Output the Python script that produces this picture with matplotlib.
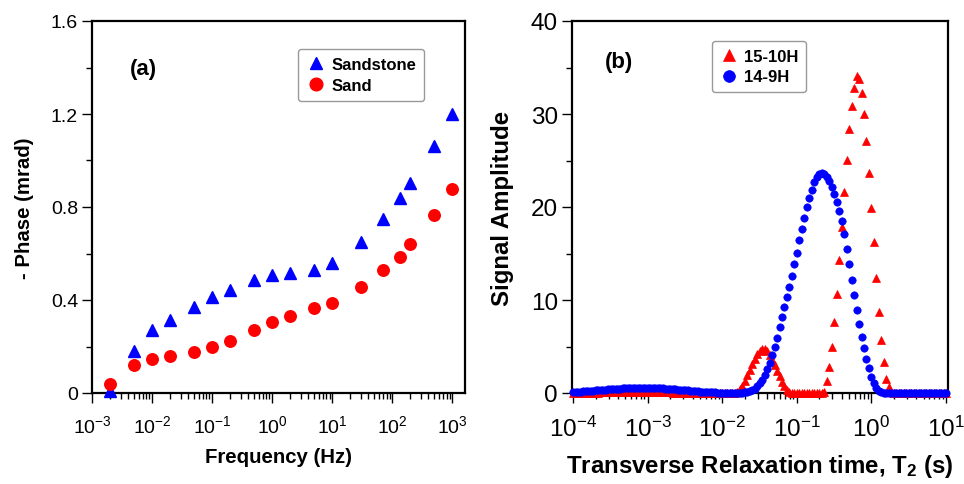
import numpy as np
import matplotlib
matplotlib.use("Agg")
import matplotlib.pyplot as plt
from matplotlib.ticker import LogLocator, MultipleLocator, NullFormatter

plt.rcParams['font.family'] = ['Liberation Sans', 'DejaVu Sans']
plt.rcParams['mathtext.fontset'] = 'custom'
plt.rcParams['mathtext.rm'] = 'Liberation Sans'
plt.rcParams['mathtext.it'] = 'Liberation Sans:italic'
plt.rcParams['mathtext.bf'] = 'Liberation Sans:bold'

# ---- panel (a): phase spectra ----
freq = [0.002, 0.005, 0.01, 0.02, 0.05, 0.1, 0.2, 0.5, 1, 2, 5, 10,
        30, 70, 135, 200, 500, 1000]
phase_sandstone = [0.01, 0.182, 0.273, 0.313, 0.368, 0.415, 0.445, 0.485, 0.507,
                   0.515, 0.53, 0.557, 0.649, 0.749, 0.838, 0.903, 1.064, 1.202]
phase_sand = [0.04, 0.119, 0.146, 0.158, 0.177, 0.198, 0.225, 0.27, 0.304,
              0.333, 0.366, 0.389, 0.455, 0.528, 0.586, 0.642, 0.765, 0.876]

# ---- panel (b): NMR T2 distributions, 30 bins per decade from 1e-4 to 10 s ----
t2 = np.logspace(-4, 1, 151)
amp_15_10h = [
    0.02, 0.02, 0.03, 0.03, 0.03, 0.04, 0.04, 0.04, 0.05, 0.05,
    0.05, 0.06, 0.06, 0.06, 0.07, 0.07, 0.07, 0.07, 0.08, 0.08,
    0.08, 0.08, 0.08, 0.08, 0.08, 0.08, 0.08, 0.08, 0.08, 0.08,
    0.08, 0.08, 0.08, 0.07, 0.07, 0.07, 0.07, 0.06, 0.06, 0.06,
    0.05, 0.05, 0.05, 0.04, 0.04, 0.04, 0.03, 0.03, 0.03, 0.02,
    0.02, 0.02, 0.02, 0.01, 0.01, 0.01, 0.01, 0.01, 0.0, 0.0,
    0.0, 0.0, 0.0, 0.0, 0.0, 0.05, 0.15, 0.40, 0.80, 1.30,
    1.90, 2.50, 3.10, 3.65, 4.15, 4.50, 4.70, 4.70, 4.50, 4.10,
    3.60, 3.00, 2.40, 1.80, 1.20, 0.70, 0.35, 0.15, 0.05, 0.0,
    0.0, 0.0, 0.0, 0.0, 0.0, 0.0, 0.0, 0.0, 0.0, 0.0,
    0.0, 0.10, 1.3, 2.8, 4.9, 7.6, 10.6, 14.3, 17.8, 21.6,
    25.1, 28.4, 30.9, 32.8, 34.1, 33.8, 32.3, 30.0, 27.1, 23.7,
    19.9, 16.2, 12.4, 8.7, 5.7, 3.3, 1.5, 0.6, 0.15, 0.0,
    0.0, 0.0, 0.0, 0.0, 0.0, 0.0, 0.0, 0.0, 0.0, 0.0,
    0.0, 0.0, 0.0, 0.0, 0.0, 0.0, 0.0, 0.0, 0.0, 0.0,
    0.0,
]
amp_14_9h = [
    0.10, 0.11, 0.13, 0.15, 0.17, 0.19, 0.21, 0.23, 0.26, 0.28,
    0.30, 0.32, 0.34, 0.36, 0.38, 0.40, 0.42, 0.44, 0.46, 0.48,
    0.50, 0.51, 0.52, 0.53, 0.54, 0.55, 0.56, 0.56, 0.57, 0.57,
    0.57, 0.56, 0.56, 0.55, 0.54, 0.52, 0.50, 0.48, 0.46, 0.44,
    0.42, 0.40, 0.37, 0.35, 0.32, 0.30, 0.27, 0.25, 0.22, 0.20,
    0.18, 0.16, 0.14, 0.12, 0.10, 0.08, 0.07, 0.06, 0.05, 0.04,
    0.03, 0.03, 0.02, 0.02, 0.02, 0.02, 0.03, 0.03, 0.04, 0.06,
    0.10, 0.18, 0.30, 0.48, 0.75, 1.05, 1.45, 1.95, 2.55, 3.25,
    4.05, 4.95, 5.95, 7.05, 8.15, 9.25, 10.35, 11.45, 12.60, 13.85,
    15.10, 16.40, 17.65, 18.85, 19.95, 20.95, 21.85, 22.65, 23.25, 23.60,
    23.70, 23.55, 23.20, 22.75, 22.10, 21.35, 20.55, 19.60, 18.45, 17.05,
    15.50, 13.85, 12.20, 10.55, 8.95, 7.45, 6.05, 4.80, 3.65, 2.65,
    1.75, 1.05, 0.55, 0.25, 0.10, 0.04, 0.0, 0.0, 0.0, 0.0,
    0.0, 0.0, 0.0, 0.0, 0.0, 0.0, 0.0, 0.0, 0.0, 0.0,
    0.0, 0.0, 0.0, 0.0, 0.0, 0.0, 0.0, 0.0, 0.0, 0.0,
    0.0,
]

fig = plt.figure(figsize=(9.64, 4.85), dpi=100)
ax1 = fig.add_axes([92 / 964, 91 / 485, 373 / 964, 372 / 485])
ax2 = fig.add_axes([572 / 964, 91 / 485, 376 / 964, 372 / 485])

bold12 = {'weight': 'bold', 'size': 12}

# panel (a)
ax1.plot(freq, phase_sandstone, '^', color='blue', ms=8, mec='blue',
         label='Sandstone', clip_on=False, zorder=3)
ax1.plot(freq, phase_sand, 'o', color='red', ms=8.3, mec='red',
         label='Sand', clip_on=False, zorder=3)
ax1.set_xscale('log')
ax1.set_xlim(1e-3, 10 ** 3.21)
ax1.set_ylim(0, 1.6)
ax1.set_yticks([0, 0.4, 0.8, 1.2, 1.6])
ax1.set_yticklabels(['0', '0.4', '0.8', '1.2', '1.6'])
ax1.yaxis.set_minor_locator(MultipleLocator(0.2))
ax1.set_xlabel('Frequency (Hz)', fontsize=14.7, fontweight='bold', va='center')
ax1.xaxis.set_label_coords(0.5, -0.172)
ax1.set_ylabel('- Phase (mrad)', fontsize=14.7, fontweight='bold', va='center')
ax1.yaxis.set_label_coords(-0.18, 0.5)
ax1.text(0.137, 0.871, '(a)', transform=ax1.transAxes, fontsize=16,
         fontweight='bold', ha='center', va='center')
ax1.legend(loc='upper left', bbox_to_anchor=(0.552, 0.925), prop=bold12,
           frameon=True, fancybox=True, edgecolor='0.6', framealpha=1,
           handletextpad=0.3, handlelength=1.2, borderpad=0.5,
           labelspacing=0.35, borderaxespad=0, markerscale=1.1)

# panel (b)
ax2.plot(t2, amp_15_10h, '^', color='red', ms=5.8, mec='red', mew=0.5,
         label='15-10H', clip_on=False, zorder=3)
ax2.plot(t2, amp_14_9h, 'o', color='blue', ms=5.3, mec='blue', mew=0.5,
         label='14-9H', clip_on=False, zorder=3)
ax2.set_xscale('log')
ax2.set_xlim(10 ** -4.017, 10 ** 1.027)
ax2.set_ylim(0, 40)
ax2.yaxis.set_major_locator(MultipleLocator(10))
ax2.yaxis.set_minor_locator(MultipleLocator(5))
ax2.set_xlabel(r'Transverse Relaxation time, T$_\mathbf{2}$ (s)', fontsize=17.3,
               fontweight='bold', va='center')
ax2.xaxis.set_label_coords(0.5, -0.194)
ax2.set_ylabel('Signal Amplitude', fontsize=17.3, fontweight='bold', va='center')
ax2.yaxis.set_label_coords(-0.186, 0.5)
ax2.text(0.125, 0.892, '(b)', transform=ax2.transAxes, fontsize=16,
         fontweight='bold', ha='center', va='center')
ax2.legend(loc='upper left', bbox_to_anchor=(0.372, 0.946), prop=bold12,
           frameon=True, fancybox=True, edgecolor='0.6', framealpha=1,
           handletextpad=0.3, handlelength=1.2, borderpad=0.45,
           labelspacing=0.35, borderaxespad=0, markerscale=1.6)

for ax, fs, xpad in ((ax1, 14, 8), (ax2, 17.5, 9)):
    ax.xaxis.set_major_locator(LogLocator(base=10, numticks=12))
    ax.xaxis.set_minor_locator(LogLocator(base=10, subs=np.arange(2, 10), numticks=12))
    ax.xaxis.set_minor_formatter(NullFormatter())
    ax.tick_params(which='major', direction='out', length=7, width=1,
                   labelsize=fs, pad=3, top=False, right=False)
    ax.tick_params(which='minor', direction='out', length=4.5, width=1,
                   top=False, right=False)
    ax.tick_params(axis='x', which='major', pad=xpad)
    for s in ax.spines.values():
        s.set_linewidth(1.6)

fig.savefig('out.png', dpi=100)
